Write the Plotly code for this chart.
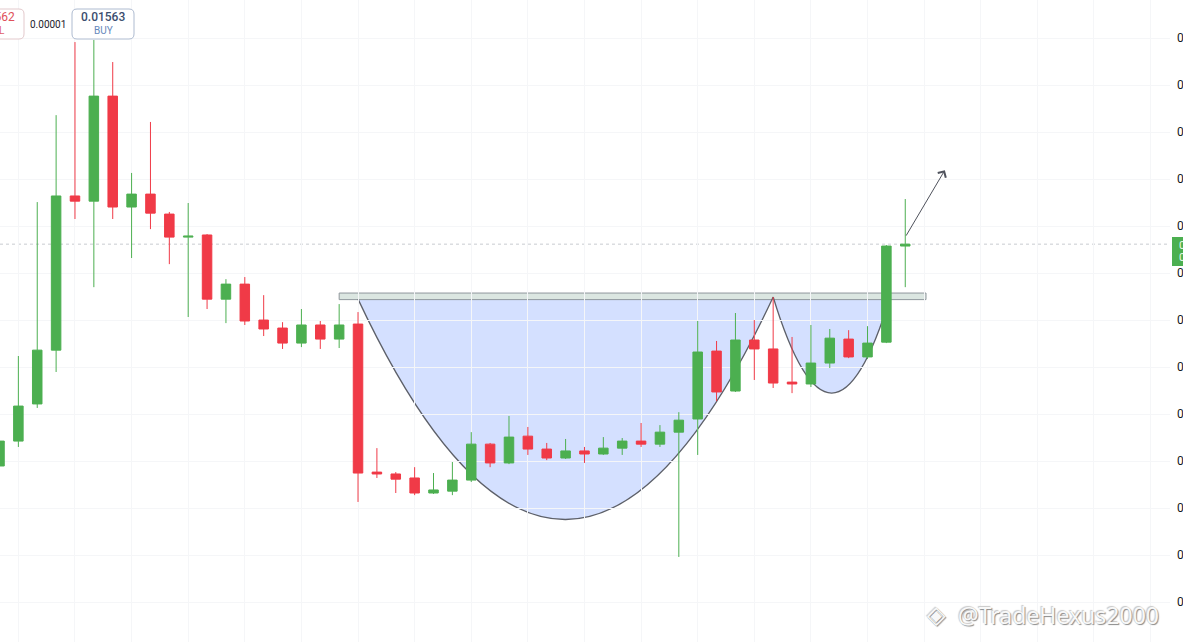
import plotly.graph_objects as go

# ---------------- data (prices) ----------------
candle_idx = list(range(49))
opens = [0.014679, 0.014785, 0.014943, 0.015172, 0.015828, 0.015806, 0.016253, 0.015781,
         0.015836, 0.015751, 0.015653, 0.015662, 0.015389, 0.015453, 0.015300, 0.015266,
         0.015202, 0.015279, 0.015219, 0.015283, 0.014653, 0.014645, 0.014628, 0.014564,
         0.014572, 0.014619, 0.014772, 0.014692, 0.014806, 0.014751, 0.014713, 0.014743,
         0.014730, 0.014755, 0.014785, 0.014772, 0.014823, 0.014879, 0.015168, 0.014998,
         0.015215, 0.015177, 0.015036, 0.015028, 0.015117, 0.015219, 0.015143, 0.015206,
         0.015615]
highs = [0.014798, 0.015147, 0.015802, 0.016172, 0.016483, 0.016492, 0.016398, 0.015926,
         0.016143, 0.015760, 0.015798, 0.015666, 0.015474, 0.015483, 0.015406, 0.015291,
         0.015347, 0.015296, 0.015368, 0.015334, 0.014755, 0.014653, 0.014674, 0.014649,
         0.014696, 0.014823, 0.014777, 0.014892, 0.014845, 0.014777, 0.014794, 0.014760,
         0.014802, 0.014798, 0.014862, 0.014853, 0.014908, 0.015296, 0.015211, 0.015330,
         0.015300, 0.015398, 0.015228, 0.015279, 0.015262, 0.015257, 0.015274, 0.015619,
         0.015815]
lows = [0.014670, 0.014760, 0.014926, 0.015079, 0.015730, 0.015440, 0.015730, 0.015564,
        0.015687, 0.015538, 0.015313, 0.015347, 0.015287, 0.015279, 0.015232, 0.015177,
        0.015185, 0.015177, 0.015181, 0.014526, 0.014628, 0.014564, 0.014555, 0.014560,
        0.014555, 0.014611, 0.014674, 0.014687, 0.014726, 0.014704, 0.014709, 0.014692,
        0.014726, 0.014726, 0.014760, 0.014760, 0.014292, 0.014726, 0.014955, 0.014994,
        0.015045, 0.015011, 0.014989, 0.015015, 0.015096, 0.015138, 0.015134, 0.015202,
        0.015440]
closes = [0.014785, 0.014934, 0.015172, 0.015828, 0.015806, 0.016253, 0.015781, 0.015836,
          0.015755, 0.015653, 0.015657, 0.015389, 0.015453, 0.015296, 0.015262, 0.015202,
          0.015279, 0.015219, 0.015279, 0.014649, 0.014645, 0.014623, 0.014564, 0.014577,
          0.014619, 0.014772, 0.014692, 0.014802, 0.014751, 0.014713, 0.014743, 0.014730,
          0.014755, 0.014785, 0.014772, 0.014823, 0.014874, 0.015164, 0.014994, 0.015215,
          0.015177, 0.015032, 0.015028, 0.015117, 0.015223, 0.015143, 0.015202, 0.015615,
          0.015623]

# pattern drawing anchor points (candle index, price)
cup_x = [19, 30, 41]                 # start, control, end
cup_y = [0.015389, 0.013509, 0.015398]
handle_x = [41, 44.1, 47.2]
handle_y = [0.015398, 0.014581, 0.015398]
band_x = [18.0, 49.1]
band_y = [0.015387, 0.015415]
arrow_from = (48.0, 0.015653)
arrow_to = (50.1, 0.015938)

ytick0 = 0.0001
ytick_step = 0.0002
y_range = [0.013930, 0.016662]
x_range = [0.0265, 62.03]

sell_price = "0.01562"
buy_price = "0.01563"
spread = "0.00001"
watermark = "@TradeHexus2000"

# ---------------- styling ----------------
W, H = 1183, 642
PLOT_W = 1170
GREEN = "#4caf50"
RED = "#f03a47"
GRID = "#f5f6f8"


def X(px):
    return px / PLOT_W


def Y(py):
    return 1 - py / H


def rrect(x0, y0, x1, y1, r):
    return (f"M {X(x0 + r)},{Y(y0)} L {X(x1 - r)},{Y(y0)} Q {X(x1)},{Y(y0)} {X(x1)},{Y(y0 + r)} "
            f"L {X(x1)},{Y(y1 - r)} Q {X(x1)},{Y(y1)} {X(x1 - r)},{Y(y1)} "
            f"L {X(x0 + r)},{Y(y1)} Q {X(x0)},{Y(y1)} {X(x0)},{Y(y1 - r)} "
            f"L {X(x0)},{Y(y0 + r)} Q {X(x0)},{Y(y0)} {X(x0 + r)},{Y(y0)} Z")


fig = go.Figure()
fig.add_trace(go.Candlestick(
    x=candle_idx, open=opens, high=highs, low=lows, close=closes,
    increasing=dict(line=dict(color=GREEN, width=1), fillcolor=GREEN),
    decreasing=dict(line=dict(color=RED, width=1), fillcolor=RED),
    hoverinfo="skip", showlegend=False,
))

shapes = []


def qpath(xs, ys, close=False):
    p = f"M {xs[0]},{ys[0]} Q {xs[1]},{ys[1]} {xs[2]},{ys[2]}"
    return p + (" Z" if close else "")


# cup + handle fills
for xs, ys in ((cup_x, cup_y), (handle_x, handle_y)):
    shapes.append(dict(type="path", xref="x", yref="y", path=qpath(xs, ys, True),
                       fillcolor="rgba(41,98,255,0.2)", line=dict(width=0), layer="below"))
# resistance band
shapes.append(dict(type="rect", xref="x", yref="y", x0=band_x[0], x1=band_x[1],
                   y0=band_y[0], y1=band_y[1], fillcolor="#dbe6e1",
                   line=dict(color="#8f979c", width=1), layer="below"))
# curves
for xs, ys in ((cup_x, cup_y), (handle_x, handle_y)):
    shapes.append(dict(type="path", xref="x", yref="y", path=qpath(xs, ys, False),
                       line=dict(color="#5d6069", width=1.3), layer="below"))
# current price dashed line
shapes.append(dict(type="line", xref="paper", yref="y", x0=0, x1=1, y0=closes[-1], y1=closes[-1],
                   line=dict(color="#c8cbd1", width=1, dash="3px,3px"), layer="below"))
# green price label on the scale
shapes.append(dict(type="rect", xref="paper", yref="paper", x0=X(1172), x1=X(1200),
                   y0=Y(266), y1=Y(237), fillcolor="#4caf50", line=dict(width=0), layer="above"))
# SELL / BUY boxes
shapes.append(dict(type="path", xref="paper", yref="paper", path=rrect(-38, 9, 24, 39, 5),
                   fillcolor="white", line=dict(color="#e3c9cc", width=1), layer="above"))
shapes.append(dict(type="path", xref="paper", yref="paper", path=rrect(72, 9, 134, 39, 5),
                   fillcolor="white", line=dict(color="#aebbd0", width=1), layer="above"))

annotations = [
    dict(x=arrow_to[0], y=arrow_to[1], ax=arrow_from[0], ay=arrow_from[1],
         xref="x", yref="y", axref="x", ayref="y", text="", showarrow=True,
         arrowhead=4, arrowsize=1.8, arrowwidth=1, arrowcolor="#4f525c", standoff=0),
    dict(x=X(-7), y=Y(17), xref="paper", yref="paper", text=sell_price, showarrow=False,
         font=dict(family="Roboto", size=12, color="#e0505a"), xanchor="center", yanchor="middle"),
    dict(x=X(-7), y=Y(30), xref="paper", yref="paper", text="SELL", showarrow=False,
         font=dict(family="Roboto", size=10, color="#e0606a"), xanchor="center", yanchor="middle"),
    dict(x=X(48), y=Y(24), xref="paper", yref="paper", text=spread, showarrow=False,
         font=dict(family="Roboto", size=10, color="#1e222d"), xanchor="center", yanchor="middle"),
    dict(x=X(103), y=Y(17), xref="paper", yref="paper", text=buy_price, showarrow=False,
         font=dict(family="Roboto", size=12, color="#3b4d6e", weight=500),
         xanchor="center", yanchor="middle"),
    dict(x=X(103), y=Y(30), xref="paper", yref="paper", text="BUY", showarrow=False,
         font=dict(family="Roboto", size=10, color="#6688bb"), xanchor="center", yanchor="middle"),
    dict(x=X(1177), y=Y(245), xref="paper", yref="paper", text="0.01562", showarrow=False,
         font=dict(family="Roboto", size=11, color="#eafbe6"), xanchor="left", yanchor="middle"),
    dict(x=X(1177), y=Y(258), xref="paper", yref="paper", text="03:41:27", showarrow=False,
         font=dict(family="Roboto", size=11, color="#eafbe6"), xanchor="left", yanchor="middle"),
    dict(x=X(925), y=Y(615), xref="paper", yref="paper", text="◈", showarrow=False,
         font=dict(family="DejaVu Sans", size=24, color="#f8f8f8",
                   shadow="1px 1px 1px #8a8a8a, -1px -1px 1px #c8c8c8"),
         xanchor="left", yanchor="middle"),
    dict(x=X(956), y=Y(615), xref="paper", yref="paper", text=watermark, showarrow=False,
         font=dict(family="Noto Sans", size=23, color="#f8f8f8",
                   shadow="1px 1px 1px #8a8a8a, -1px -1px 1px #c8c8c8"),
         xanchor="left", yanchor="middle"),
]

fig.update_layout(
    width=W, height=H,
    margin=dict(l=0, r=W - PLOT_W, t=0, b=0),
    paper_bgcolor="white", plot_bgcolor="white",
    showlegend=False, boxgap=0.28,
    shapes=shapes, annotations=annotations,
    xaxis=dict(range=x_range, rangeslider=dict(visible=False), showticklabels=False,
               showgrid=True, gridcolor=GRID, gridwidth=1, tick0=1, dtick=3,
               zeroline=False, showline=False, ticks="", automargin=False, fixedrange=True),
    yaxis=dict(range=y_range, side="right", tick0=ytick0, dtick=ytick_step, tickformat=".5f",
               showgrid=True, gridcolor=GRID, gridwidth=1, zeroline=False, showline=False,
               ticks="", ticklabelstandoff=6, automargin=False, fixedrange=True,
               tickfont=dict(family="Roboto", size=12, color="#131722")),
)

fig.write_html("out.html", include_plotlyjs=True, config={"displayModeBar": False},
               post_script="document.body.style.margin='0';document.body.style.overflow='hidden';")
